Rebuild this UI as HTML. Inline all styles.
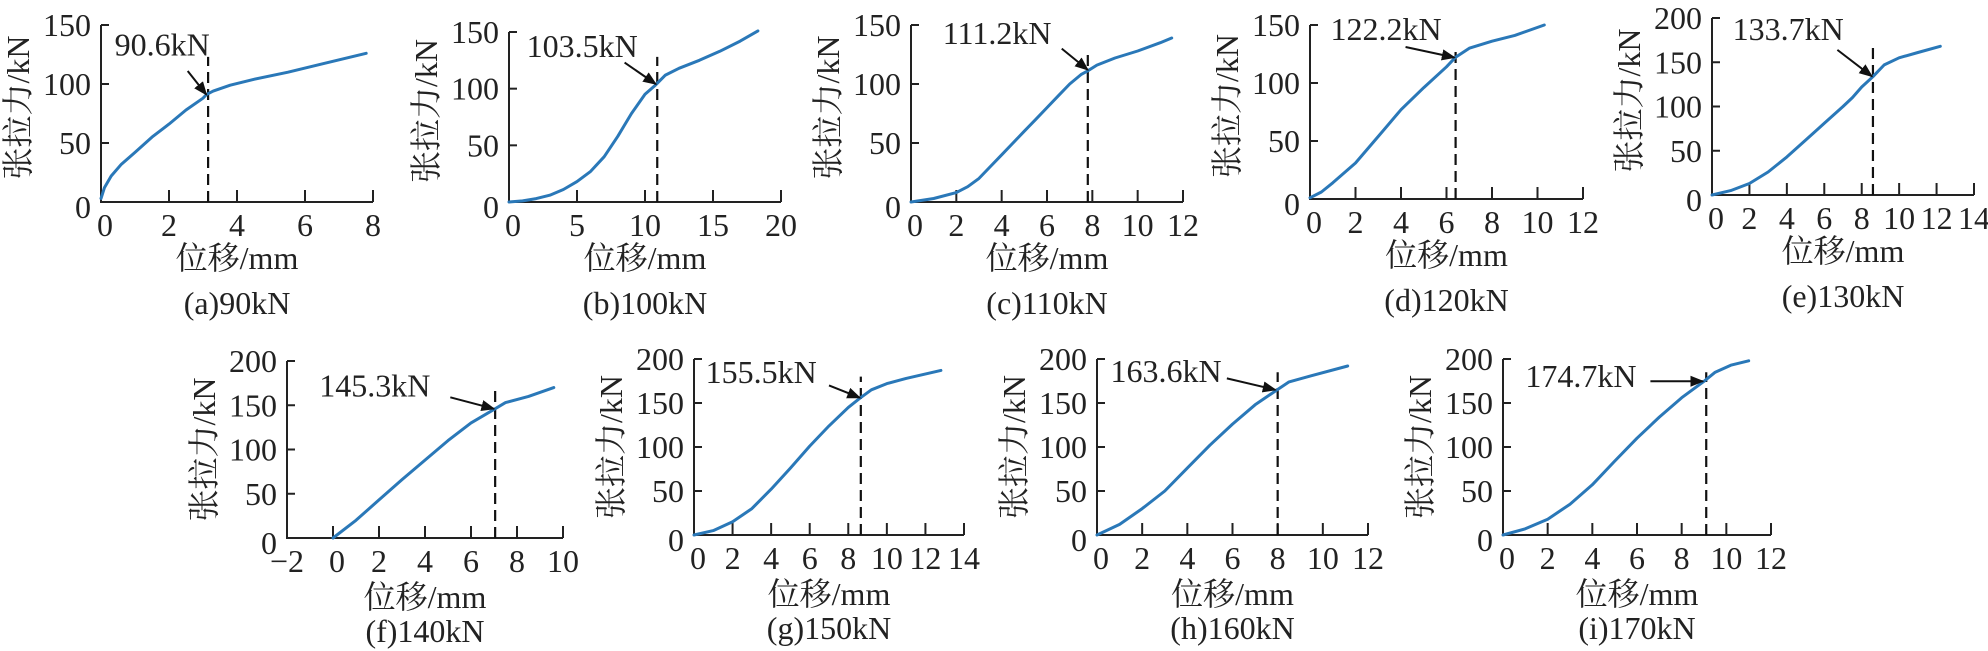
<!DOCTYPE html>
<html><head><meta charset="utf-8">
<style>
html,body{margin:0;padding:0;background:#fff;}
svg{display:block;}
text{font-family:"Liberation Serif","Noto Serif CJK SC","Noto Sans CJK SC",serif;font-size:32px;fill:#222;}
</style></head>
<body>
<svg id="fig" width="1988" height="651" viewBox="0 0 1988 651" xmlns="http://www.w3.org/2000/svg">
<defs><marker id="ah" viewBox="0 0 10 10" refX="9" refY="5" markerWidth="7" markerHeight="7" orient="auto-start-reverse"><path d="M0,1 L10,5 L0,9 z" fill="#111"/></marker></defs>
</svg>
<script>
// ---- data (per panel) ----
const panelIds = ["a","b","c","d","e","f","g","h","i"];
const captions = ["(a)90kN","(b)100kN","(c)110kN","(d)120kN","(e)130kN","(f)140kN","(g)150kN","(h)160kN","(i)170kN"];
const annotLabels = ["90.6kN","103.5kN","111.2kN","122.2kN","133.7kN","145.3kN","155.5kN","163.6kN","174.7kN"];
const xTicks = [[0,2,4,6,8],[0,5,10,15,20],[0,2,4,6,8,10,12],[0,2,4,6,8,10,12],[0,2,4,6,8,10,12,14],[-2,0,2,4,6,8,10],[0,2,4,6,8,10,12,14],[0,2,4,6,8,10,12],[0,2,4,6,8,10,12]];
const yTicks = [[0,50,100,150],[0,50,100,150],[0,50,100,150],[0,50,100,150],[0,50,100,150,200],[0,50,100,150,200],[0,50,100,150,200],[0,50,100,150,200],[0,50,100,150,200]];
const curveX_a = [0,0.1,0.3,0.6,1,1.5,2,2.5,3,3.1,3.3,3.8,4.5,5.5,6.5,7.8];
const curveY_a = [3,12,22,32,42,55,66,78,88,91,94,99,104,110,117,126];
const curveX_b = [0,1,2,3,4,5,6,7,8,9,10,10.8,11.5,12.5,14,15.5,17,18.3];
const curveY_b = [0,1,3,6,11,18,27,40,58,78,95,103.5,112,118,125,133,142,151];
const curveX_c = [0,1,2,2.5,3,3.5,4,4.5,5,5.5,6,6.5,7,7.5,7.8,8.2,9,10,11,11.5];
const curveY_c = [0,3,8,13,20,30,40,50,60,70,80,90,100,108,111.2,116,122,128,135,139];
const curveX_d = [0,0.5,1,2,3,4,5,6,6.4,7,8,9,10.3];
const curveY_d = [1,6,14,31,54,77,96,114,122.2,130,136,141,150];
const curveX_e = [0,1,2,3,4,5,6,7,7.5,8,8.6,9.2,10,11,12.2];
const curveY_e = [0,5,13,26,43,62,81,100,110,122,133.7,147,155,161,168];
const curveX_f = [0,1,2,3,4,5,6,7,7.5,8.5,9.6];
const curveY_f = [0,20,43,66,88,110,130,145.3,153,160,170];
const curveX_g = [0,1,2,3,4,5,6,7,8,8.6,9.2,10,11,12.8];
const curveY_g = [0,5,15,30,52,76,101,124,145,155.5,165,172,178,187];
const curveX_h = [0,1,2,3,4,5,6,7,7.9,8.5,9.5,11.1];
const curveY_h = [0,12,30,50,76,102,126,148,163.6,174,181,192];
const curveX_i = [0,1,2,3,4,5,6,7,8,9.0,9.5,10.2,11];
const curveY_i = [0,7,18,35,57,84,110,134,156,174.7,185,193,198];
const curvesX = [curveX_a,curveX_b,curveX_c,curveX_d,curveX_e,curveX_f,curveX_g,curveX_h,curveX_i];
const curvesY = [curveY_a,curveY_b,curveY_c,curveY_d,curveY_e,curveY_f,curveY_g,curveY_h,curveY_i];
const dashX = [3.15,10.9,7.8,6.4,8.6,7.05,8.65,8.0,9.1];
const dashTop = [123,128,128,127,172,168,180,185,185];
const labelPos = [[0.4,124],[1.3,128],[1.4,134],[0.9,137],[1.1,175],[-0.6,160],[0.6,173],[0.6,174],[1.0,168]];
const arrowFrom = [[2.55,111],[8.5,123],[6.65,130],[4.2,131],[6.7,164],[5.1,159],[7.0,170],[5.75,178],[6.6,174.7]];
const arrowTo = [[3.1,91],[10.8,104],[7.8,112],[6.35,122],[8.55,134],[7.0,146],[8.6,156],[7.9,165],[8.95,174.7]];
// ---- layout: pixel frames ----
const frames = [
 {x0:101,x1:373,y0:202,y1:25,xmin:0,xmax:8,ymax:150,row:0},
 {x0:509,x1:781,y0:202,y1:32,xmin:0,xmax:20,ymax:150,row:0},
 {x0:911,x1:1183,y0:202,y1:25,xmin:0,xmax:12,ymax:150,row:0},
 {x0:1310,x1:1583,y0:199,y1:25,xmin:0,xmax:12,ymax:150,row:0},
 {x0:1712,x1:1974,y0:195,y1:18,xmin:0,xmax:14,ymax:200,row:0},
 {x0:287,x1:563,y0:538,y1:361,xmin:-2,xmax:10,ymax:200,row:1},
 {x0:694,x1:964,y0:535,y1:359,xmin:0,xmax:14,ymax:200,row:1},
 {x0:1097,x1:1368,y0:535,y1:359,xmin:0,xmax:12,ymax:200,row:1},
 {x0:1503,x1:1771,y0:535,y1:359,xmin:0,xmax:12,ymax:200,row:1}
];
const NS="http://www.w3.org/2000/svg";
const svg=document.getElementById('fig');
function mk(tag,attrs,parent){const e=document.createElementNS(NS,tag);for(const k in attrs)e.setAttribute(k,attrs[k]);(parent||svg).appendChild(e);return e;}
frames.forEach((f,i)=>{
  const sx=v=>f.x0+(v-f.xmin)/(f.xmax-f.xmin)*(f.x1-f.x0);
  const sy=v=>f.y0-(v/f.ymax)*(f.y0-f.y1);
  const g=mk('g',{});
  
  
  const ax=mk('path',{d:`M${f.x0},${f.y1} L${f.x0},${f.y0} L${f.x1},${f.y0}`,fill:'none',stroke:'#222','stroke-width':2},g);
  
  
  yTicks[i].forEach(t=>{
    const y=sy(t);
    const tk=mk('line',{x1:f.x0,x2:f.x0+8,y1:y,y2:y,stroke:'#222','stroke-width':2},g);
    
    
    const tx=mk('text',{x:f.x0-10,y:y+(t===0?16:11),'text-anchor':'end'},g);
    tx.textContent=t;
    
    
  });
  xTicks[i].forEach(t=>{
    const x=sx(t);
    const tk=mk('line',{x1:x,x2:x,y1:f.y0,y2:f.y0-12,stroke:'#222','stroke-width':2},g);
    
    
    const tx=mk('text',{x:x+(t===0?4:0),y:f.y0+34,'text-anchor':'middle'},g);
    tx.textContent=(t<0?'\u2212'+(-t):t);
    
    
  });
  const cx=(f.x0+f.x1)/2;
  const xt=mk('text',{x:cx,y:f.y0+(f.row===0?67:70),'text-anchor':'middle'},g);
  xt.textContent='位移/mm';
  
  
  const cy=(f.y0+f.y1)/2-(f.row===0?6:0);
  const yt=mk('text',{x:0,y:0,'text-anchor':'middle',transform:`translate(${f.x0-72},${cy}) rotate(-90)`},g);
  yt.textContent='张拉力/kN';
  
  
  const cp=mk('text',{x:cx,y:f.y0+(f.row===0?112:104),'text-anchor':'middle'},g);
  cp.textContent=captions[i];
  
  
  const dl=mk('line',{x1:sx(dashX[i]),x2:sx(dashX[i]),y1:f.y0,y2:sy(dashTop[i]),stroke:'#111','stroke-width':2.2,'stroke-dasharray':'11,6'},g);
  
  
  const pts=curvesX[i].map((x,j)=>sx(x).toFixed(1)+','+sy(curvesY[i][j]).toFixed(1)).join(' ');
  const pl=mk('polyline',{points:pts,fill:'none',stroke:'#2a78b8','stroke-width':3,'stroke-linejoin':'round','stroke-linecap':'round'},g);
  
  
  const lb=mk('text',{x:sx(labelPos[i][0]),y:sy(labelPos[i][1])},g);
  lb.textContent=annotLabels[i];
  
  
  const ar=mk('line',{x1:sx(arrowFrom[i][0]),y1:sy(arrowFrom[i][1]),x2:sx(arrowTo[i][0]),y2:sy(arrowTo[i][1]),stroke:'#111','stroke-width':2,'marker-end':'url(#ah)'},g);
  
  
});
</script>
</body></html>
